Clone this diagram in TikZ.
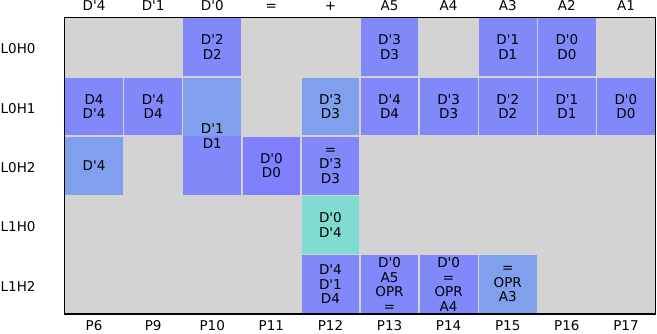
\documentclass[tikz,border=0pt]{standalone}
\usepackage{fontspec}
\setmainfont{DejaVu Sans}[Ligatures=TeXOff]
\usepackage{tikz}
\definecolor{cellblue}{RGB}{128,136,250}
\definecolor{celllight}{RGB}{128,160,238}
\definecolor{cellviolet}{RGB}{127,127,255}
\definecolor{cellteal}{RGB}{128,220,208}
\definecolor{gridgray}{RGB}{211,211,211}

\tikzset{
    slot/.style={draw=gridgray, line width=1.4pt, inner sep=0pt,
        minimum width=59.1pt, minimum height=59.3pt, align=center,
        font=\fontsize{13.5}{14.6}\selectfont},
    ticklabel/.style={inner sep=0pt, font=\fontsize{13.5}{14.6}\selectfont}
}

\begin{document}
\begin{tikzpicture}[x=59.1pt, y=-59.3pt]
    \useasboundingbox (-64.5pt,17.5pt) rectangle (592.5pt,-315.5pt);
    \fill[gridgray] (0,0) rectangle (10,5);

    % axis labels
    \foreach \toplab/\botlab [count=\i from 0] in {D'4/P6, D'1/P9, D'0/P10, =/P11, +/P12, A5/P13, A4/P14, A3/P15, A2/P16, A1/P17} {
        \node[ticklabel, anchor=base] (top-\i) at ([yshift=6.8pt]\i+0.5,0) {\toplab};
        \node[ticklabel, anchor=base] (bot-\i) at ([yshift=-16.9pt]\i+0.5,5) {\botlab};
    }
    \foreach \rowlab [count=\j from 0] in {L0H0, L0H1, L0H2, L1H0, L1H2} {
        \node[ticklabel, anchor=base west] (row-\j) at ([xshift=-64pt, yshift=-6.7pt]0,\j+0.5) {\rowlab};
    }

    % L0H0
    \node[slot, fill=cellblue] (l0h0-p10) at (2.5,0.5) {D'2\\D2};
    \node[slot, fill=cellblue] (l0h0-p13) at (5.5,0.5) {D'3\\D3};
    \node[slot, fill=cellblue] (l0h0-p15) at (7.5,0.5) {D'1\\D1};
    \node[slot, fill=cellblue] (l0h0-p16) at (8.5,0.5) {D'0\\D0};

    % L0H1
    \node[slot, fill=cellblue] (l0h1-p6) at (0.5,1.5) {D4\\D'4};
    \node[slot, fill=cellblue] (l0h1-p9) at (1.5,1.5) {D'4\\D4};
    \node[slot, fill=cellblue, minimum height=118.6pt,
        path picture={\fill[celllight] (path picture bounding box.north west) rectangle (path picture bounding box.east);}]
        (l0h1-p10) at (2.5,2) {D'1\\D1};
    \node[slot, fill=celllight] (l0h1-p12) at (4.5,1.5) {D'3\\D3};
    \node[slot, fill=cellblue] (l0h1-p13) at (5.5,1.5) {D'4\\D4};
    \node[slot, fill=cellblue] (l0h1-p14) at (6.5,1.5) {D'3\\D3};
    \node[slot, fill=cellblue] (l0h1-p15) at (7.5,1.5) {D'2\\D2};
    \node[slot, fill=cellblue] (l0h1-p16) at (8.5,1.5) {D'1\\D1};
    \node[slot, fill=cellblue] (l0h1-p17) at (9.5,1.5) {D'0\\D0};

    % L0H2
    \node[slot, fill=celllight] (l0h2-p6) at (0.5,2.5) {D'4};
    \node[slot, fill=cellviolet] (l0h2-p11) at (3.5,2.5) {D'0\\D0};
    \node[slot, fill=cellblue] (l0h2-p12) at (4.5,2.5) {=\\D'3\\D3};

    % L1H0
    \node[slot, fill=cellteal] (l1h0-p12) at (4.5,3.5) {D'0\\D'4};

    % L1H2
    \node[slot, fill=cellblue] (l1h2-p12) at (4.5,4.5) {D'4\\D'1\\D4};
    \node[slot, fill=cellblue] (l1h2-p13) at (5.5,4.5) {D'0\\A5\\OPR\\=};
    \node[slot, fill=cellblue] (l1h2-p14) at (6.5,4.5) {D'0\\=\\OPR\\A4};
    \node[slot, fill=celllight] (l1h2-p15) at (7.5,4.5) {=\\OPR\\A3};

    \draw[line width=1.3pt] (0,0) rectangle (10,5);
\end{tikzpicture}
\end{document}
